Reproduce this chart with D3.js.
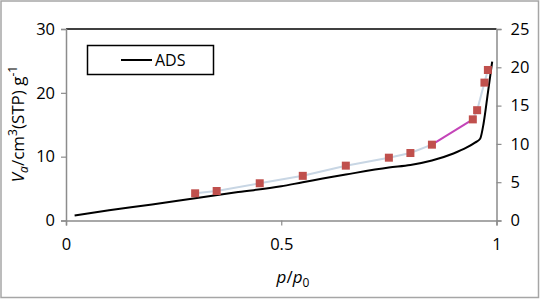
<!DOCTYPE html>
<html>
<head>
<meta charset="utf-8">
<script src="https://cdn.jsdelivr.net/npm/d3@7"></script>
<style>
  html, body { margin: 0; padding: 0; background: #fff; }
  svg { display: block; font-family: "Open Sans", sans-serif; }
</style>
</head>
<body>
<div id="chart"></div>
<script>
// ADS line (left axis, cm3(STP)/g)
const adsP = [0.02, 0.1, 0.2, 0.3, 0.4, 0.5, 0.55, 0.65, 0.75, 0.8, 0.85, 0.9, 0.93, 0.95, 0.962, 0.97, 0.98, 0.99];
const adsV = [0.8, 1.6, 2.5, 3.5, 4.45, 5.35, 6.0, 7.2, 8.3, 8.7, 9.4, 10.5, 11.4, 12.2, 12.8, 15.2, 20.0, 24.9];

// square markers (right axis)
const ptP = [0.30, 0.35, 0.45, 0.55, 0.65, 0.75, 0.80, 0.85, 0.945, 0.955, 0.972, 0.98];
const ptV = [3.55, 3.85, 4.86, 5.83, 7.16, 8.2, 8.81, 9.9, 13.2, 14.4, 18.0, 19.65];
// colour of the segment going into each point
const segColor = ["#c8d6e4", "#c8d6e4", "#c8d6e4", "#c8d6e4", "#c8d6e4", "#c8d6e4", "#c8d6e4", "#c8d6e4", "#c444b8", "#c8d6e4", "#c8d6e4", "#c8d6e4"];

const xTicks = [0, 0.5, 1];
const yLeftTicks = [0, 10, 20, 30];
const yRightTicks = [0, 5, 10, 15, 20, 25];

const W = 540, H = 299;
const x0 = 66, x1 = 496.5, yb = 220.5, yt = 29;

const svg = d3.select("#chart").append("svg")
  .attr("width", W).attr("height", H);

// outer frame
svg.append("rect")
  .attr("x", 1).attr("y", 1).attr("width", W - 2.5).attr("height", H - 2.5)
  .attr("fill", "none").attr("stroke", "#a6a6a6").attr("stroke-width", 1.5);

const x = d3.scaleLinear().domain([0, 1]).range([x0, x1]);
const yL = d3.scaleLinear().domain([0, 30]).range([yb, yt]);
const yR = d3.scaleLinear().domain([0, 25]).range([yb, yt]);

// top border of plot area
svg.append("line")
  .attr("x1", x0).attr("x2", x1).attr("y1", yt).attr("y2", yt)
  .attr("stroke", "#000").attr("stroke-width", 1.5);

function styleAxis(g) {
  g.select(".domain").attr("stroke", "#8c8c8c").attr("stroke-width", 1.5);
  g.selectAll(".tick line").attr("stroke", "#8c8c8c").attr("stroke-width", 1.2);
  g.selectAll(".tick text").attr("fill", "#000").style("font-size", "16.5px")
    .style("font-family", "Open Sans, sans-serif");
}

svg.append("g")
  .attr("transform", `translate(0,${yb})`)
  .call(d3.axisBottom(x).tickValues(xTicks).tickSizeOuter(0).tickSize(5).tickPadding(13)
    .tickFormat(d => String(d)))
  .call(styleAxis);

svg.append("g")
  .attr("transform", `translate(${x0},0)`)
  .call(d3.axisLeft(yL).tickValues(yLeftTicks).tickSizeOuter(0).tickSize(5).tickPadding(6))
  .call(styleAxis);

svg.append("g")
  .attr("transform", `translate(${x1},0)`)
  .call(d3.axisRight(yR).tickValues(yRightTicks).tickSizeOuter(0).tickSize(5).tickPadding(9))
  .call(styleAxis);

// marker connecting segments
const pts = ptP.map((p, i) => ({ p: p, v: ptV[i], c: segColor[i] }));
for (let i = 1; i < pts.length; i++) {
  svg.append("line")
    .attr("x1", x(pts[i - 1].p)).attr("y1", yR(pts[i - 1].v))
    .attr("x2", x(pts[i].p)).attr("y2", yR(pts[i].v))
    .attr("stroke", pts[i].c).attr("stroke-width", 2);
}

// ADS curve
const ads = adsP.map((p, i) => ({ p: p, v: adsV[i] }));
svg.append("path")
  .datum(ads)
  .attr("fill", "none")
  .attr("stroke", "#000")
  .attr("stroke-width", 2)
  .attr("d", d3.line().x(d => x(d.p)).y(d => yL(d.v)).curve(d3.curveMonotoneX));

// squares
const sz = 8;
svg.selectAll("rect.pt")
  .data(pts)
  .enter()
  .append("rect")
  .attr("class", "pt")
  .attr("x", d => x(d.p) - sz / 2)
  .attr("y", d => yR(d.v) - sz / 2)
  .attr("width", sz).attr("height", sz)
  .attr("fill", "#c0504d");

// legend
const lg = svg.append("g");
lg.append("rect")
  .attr("x", 87.5).attr("y", 45.5).attr("width", 126).attr("height", 29)
  .attr("fill", "#fff").attr("stroke", "#000").attr("stroke-width", 1.5);
lg.append("line")
  .attr("x1", 121).attr("x2", 152).attr("y1", 60).attr("y2", 60)
  .attr("stroke", "#000").attr("stroke-width", 2);
lg.append("text")
  .attr("x", 155).attr("y", 66)
  .style("font-size", "16px")
  .text("ADS");

// x axis title
const xt = svg.append("text")
  .attr("x", 293).attr("y", 283)
  .attr("text-anchor", "middle")
  .style("font-size", "17px");
xt.append("tspan").style("font-style", "italic").text("p");
xt.append("tspan").text("/");
xt.append("tspan").style("font-style", "italic").text("p");
xt.append("tspan").attr("dy", 4).style("font-size", "12px").text("0");

// y axis title
const yt2 = svg.append("text")
  .attr("transform", "translate(24,124) rotate(-90)")
  .attr("text-anchor", "middle")
  .style("font-size", "17px");
yt2.append("tspan").style("font-style", "italic").text("V");
yt2.append("tspan").attr("dy", 4).style("font-size", "12px").style("font-style", "italic").text("a");
yt2.append("tspan").attr("dy", -4).text("/cm");
yt2.append("tspan").attr("dy", -7).style("font-size", "12px").text("3");
yt2.append("tspan").attr("dy", 7).text("(STP) g");
yt2.append("tspan").attr("dy", -7).style("font-size", "12px").text("-1");
</script>
</body>
</html>
